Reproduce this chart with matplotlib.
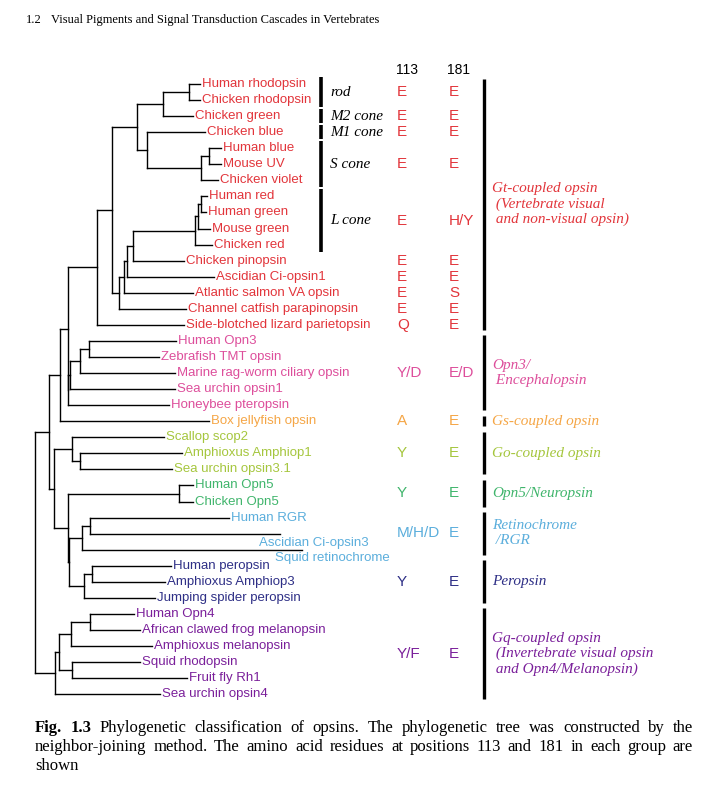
import matplotlib.pyplot as plt

# leaves of the tree, top to bottom
leaf_names = [
    'Human rhodopsin', 'Chicken rhodopsin', 'Chicken green', 'Chicken blue',
    'Human blue', 'Mouse UV', 'Chicken violet', 'Human red', 'Human green',
    'Mouse green', 'Chicken red', 'Chicken pinopsin', 'Ascidian Ci-opsin1',
    'Atlantic salmon VA opsin', 'Channel catfish parapinopsin',
    'Side-blotched lizard parietopsin', 'Human Opn3', 'Zebrafish TMT opsin',
    'Marine rag-worm ciliary opsin', 'Sea urchin opsin1', 'Honeybee pteropsin',
    'Box jellyfish opsin', 'Scallop scop2', 'Amphioxus Amphiop1',
    'Sea urchin opsin3.1', 'Human Opn5', 'Chicken Opn5', 'Human RGR',
    'Ascidian Ci-opsin3', 'Squid retinochrome', 'Human peropsin',
    'Amphioxus Amphiop3', 'Jumping spider peropsin', 'Human Opn4',
    'African clawed frog melanopsin', 'Amphioxus melanopsin', 'Squid rhodopsin',
    'Fruit fly Rh1', 'Sea urchin opsin4']
# branch tip depth of each leaf
leaf_tips = [200, 200, 192.7, 205, 220.7, 220.7, 218.3, 207.3, 206, 210, 212,
             184.3, 214.3, 193.3, 185.7, 184.3, 175.7, 159.3, 175.3, 175.3,
             169.3, 209.3, 164, 182.3, 171.7, 193.3, 193.3, 229.3, 280, 301.7,
             170.7, 165, 155, 134.3, 140, 151.7, 140, 186.7, 160]
leaf_groups = (['Gt'] * 16 + ['Opn3'] * 5 + ['Gs'] + ['Go'] * 3 + ['Opn5'] * 2
               + ['RGR'] * 3 + ['Per'] * 3 + ['Gq'] * 6)

group_colors = {'Gt': '#E2353B', 'Opn3': '#DD4E9B', 'Gs': '#F5A646',
                'Go': '#A5C63D', 'Opn5': '#40B56C', 'RGR': '#5BAEDC',
                'Per': '#2E2F86', 'Gq': '#7A1F9A'}

# neighbor-joining tree: (node depth, children); ints are leaf indices
tree = (35.3, [
    (48.7, [
        (60.3, [
            (67.7, [
                (97.3, [
                    (112.3, [
                        (136.7, [
                            (162.7, [(188.7, [0, 1]), 2]),
                            (146.7, [3, (201.3, [(208.7, [4, 5]), 6])]),
                        ]),
                        (118.7, [(123.7, [(126.7, [(133.3, [
                            (195.3, [(197.7, [(200.7, [7, 8]), 9]), 10]),
                            11]), 12]), 13]), 14]),
                    ]),
                    15,
                ]),
                (68.3, [(70.3, [(80.3, [(89.3, [16, 17]), 18]), 19]), 20]),
            ]),
            21,
        ]),
        (54.3, [
            (72.3, [22, (80.3, [23, 24])]),
            (68.3, [(179, [25, 26]),
                    (69.3, [(82.3, [(90.3, [27, 28]), 29]),
                            (84.3, [(92.3, [30, 31]), 32])])]),
        ]),
    ]),
    (55.3, [(58.7, [(71.3, [(90.3, [33, 34]), 35]), (72.3, [36, 37])]), 38]),
])

# Gt sub-classes
sub_names = ['rod', 'M2 cone', 'M1 cone', 'S cone', 'L cone']
sub_first = [0, 2, 3, 4, 7]
sub_last = [1, 2, 3, 6, 10]
sub_113 = ['E', 'E', 'E', 'E', 'E']
sub_181 = ['E', 'E', 'E', 'E', 'H/Y']

# single Gt rows
row_leaves = [11, 12, 13, 14, 15]
row_113 = ['E', 'E', 'E', 'E', 'Q']
row_181 = ['E', 'E', 'S', 'E', 'E']

# major groups
group_keys = ['Gt', 'Opn3', 'Gs', 'Go', 'Opn5', 'RGR', 'Per', 'Gq']
group_labels = ['Gt-coupled opsin\n (Vertebrate visual\n and non-visual opsin)',
                'Opn3/\n Encephalopsin', 'Gs-coupled opsin', 'Go-coupled opsin',
                'Opn5/Neuropsin', 'Retinochrome\n /RGR', 'Peropsin',
                'Gq-coupled opsin\n (Invertebrate visual opsin\n and Opn4/Melanopsin)']
group_first = [0, 16, 21, 22, 25, 27, 30, 33]
group_last = [15, 20, 21, 24, 26, 29, 32, 38]
group_113 = [None, 'Y/D', 'A', 'Y', 'Y', 'M/H/D', 'Y', 'Y/F']
group_181 = [None, 'E/D', 'E', 'E', 'E', 'E', 'E', 'E']

title_num = '1.2'
title = 'Visual Pigments and Signal Transduction Cascades in Vertebrates'
caption_lines = [
    'Fig. 1.3 Phylogenetic classification of opsins. The phylogenetic tree was constructed by the',
    'neighbor-joining method. The amino acid residues at positions 113 and 181 in each group are',
    'shown']

SANS = 'Liberation Sans'
SERIF = 'Liberation Serif'
Y0, DY = 84.0, 16.06


def leaf_y(i):
    return Y0 + DY * i


fig = plt.figure(figsize=(7.08, 7.96), dpi=100)
ax = fig.add_axes([0, 0, 1, 1])
ax.set_xlim(0, 708)
ax.set_ylim(796, 0)
ax.axis('off')


def draw(node):
    if isinstance(node, int):
        return leaf_tips[node], leaf_y(node)
    x, kids = node
    pts = [draw(k) for k in kids]
    ys = [p[1] for p in pts]
    for cx, cy in pts:
        ax.plot([x, cx], [cy, cy], color='black', lw=1.0,
                solid_capstyle='projecting')
    ax.plot([x, x], [min(ys), max(ys)], color='black', lw=1.0,
            solid_capstyle='projecting')
    return x, (min(ys) + max(ys)) / 2


draw(tree)

# leaf labels (two labels sit below their branch ends)
nudge = {28: (-21, 9), 29: (-27, 8.5)}
for i, name in enumerate(leaf_names):
    dx, dy = nudge.get(i, (2, 0))
    ax.text(leaf_tips[i] + dx, leaf_y(i) + dy, name, ha='left', va='center',
            fontsize=9.5, family=SANS, color=group_colors[leaf_groups[i]])

X113, X181 = 397, 449
RES = 11
ax.text(X113 - 1, 70, '113', fontsize=10, family=SANS, va='center')
ax.text(X181 - 2, 70, '181', fontsize=10, family=SANS, va='center')

red = group_colors['Gt']
for k, name in enumerate(sub_names):
    top, bot = leaf_y(sub_first[k]) - 7, leaf_y(sub_last[k]) + 7
    ax.plot([321, 321], [top, bot], color='black', lw=2.6, solid_capstyle='butt')
    yc = (top + bot) / 2
    ax.text(330, yc, name, fontsize=11, family=SERIF, style='italic',
            va='center')
    ax.text(X113, yc, sub_113[k], fontsize=RES, family=SANS, color=red,
            va='center')
    ax.text(X181, yc, sub_181[k], fontsize=RES, family=SANS, color=red,
            va='center')

for k, i in enumerate(row_leaves):
    ax.text(X113, leaf_y(i), row_113[k], fontsize=RES, family=SANS, color=red,
            va='center')
    ax.text(X181, leaf_y(i), row_181[k], fontsize=RES, family=SANS, color=red,
            va='center')

for k, key in enumerate(group_keys):
    c = group_colors[key]
    top, bot = leaf_y(group_first[k]) - 5.5, leaf_y(group_last[k]) + 5
    ax.plot([484, 484], [top, bot], color='black', lw=2.4, solid_capstyle='butt')
    yc = (top + bot) / 2
    ax.text(492, yc, group_labels[k], fontsize=11, family=SERIF,
            style='italic', color=c, va='center', linespacing=1.2)
    if group_113[k]:
        ax.text(X113, yc, group_113[k], fontsize=RES, family=SANS, color=c,
                va='center')
        ax.text(X181, yc, group_181[k], fontsize=RES, family=SANS, color=c,
                va='center')

# running head
ax.text(26, 20, title_num, fontsize=9, family=SERIF, va='center')
ax.text(51, 20, title, fontsize=9, family=SERIF, va='center')

# justified caption
renderer = fig.canvas.get_renderer()
left, right, size = 35, 693, 12
for li, line in enumerate(caption_lines):
    ws = line.split()
    y = 728 + 19 * li
    wds = []
    for j, w in enumerate(ws):
        wt = 'bold' if (li == 0 and j < 2) else 'normal'
        t = ax.text(0, 0, w, fontsize=size, family=SERIF, weight=wt)
        wds.append((w, wt, t.get_window_extent(renderer).width))
        t.remove()
    total = sum(w[2] for w in wds)
    last = li == len(caption_lines) - 1
    gap = 4.0 if last or len(ws) < 2 else (right - left - total) / (len(ws) - 1)
    x = left
    for w, wt, wd in wds:
        ax.text(x, y, w, fontsize=size, family=SERIF, weight=wt, va='center')
        x += wd + gap

fig.savefig('out.png', dpi=100)
